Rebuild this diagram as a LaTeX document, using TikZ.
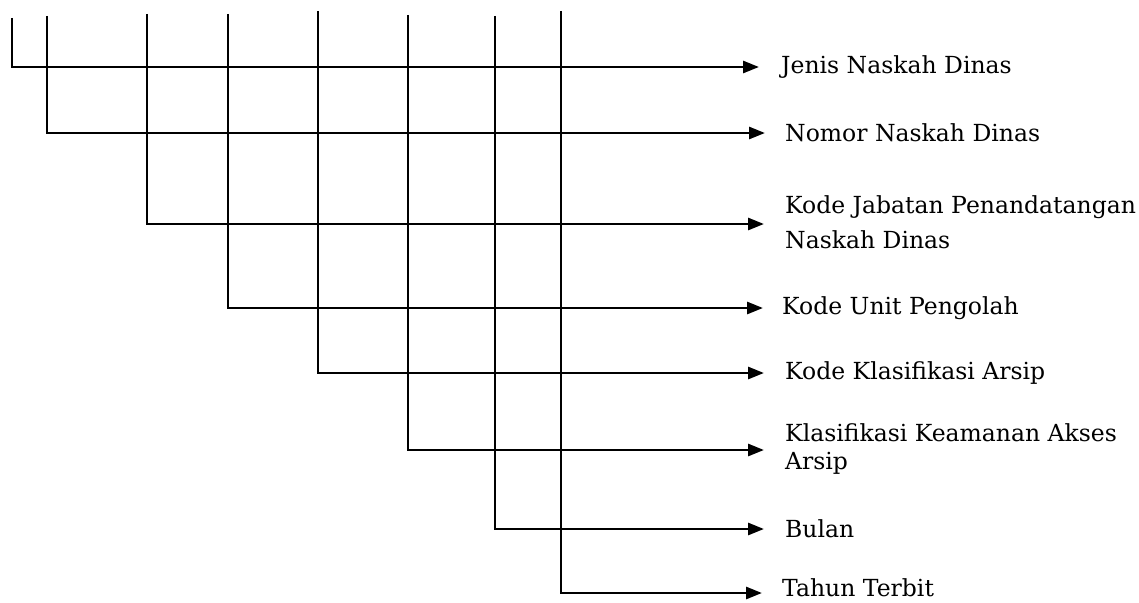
\documentclass[tikz,border=0pt]{standalone}
\usepackage{fontspec}
\setmainfont{DejaVu Serif}
\usetikzlibrary{arrows.meta}
\tikzset{
  conn/.style={line width=2.8pt, draw=black, -{Triangle[length=16pt,width=12pt]}},
  lbl/.style={anchor=west, inner sep=0pt, align=left, font=\fontsize{23.5}{28}\selectfont, text=black},
}
\begin{document}
\begin{tikzpicture}[x=1pt,y=-1pt]
\useasboundingbox (0,0) rectangle (1139,602);
% labels
\node[lbl] (l1) at (781,67) {Jenis Naskah Dinas};
\node[lbl] (l2) at (785,133) {Nomor Naskah Dinas};
\node[lbl] (l3) at (785,222) {Kode Jabatan Penandatangan\\[7pt]Naskah Dinas};
\node[lbl] (l4) at (782,308) {Kode Unit Pengolah};
\node[lbl] (l5) at (785,373) {Kode Klasifikasi Arsip};
\node[lbl] (l6) at (785,449) {Klasifikasi Keamanan Akses\\Arsip};
\node[lbl] (l7) at (785,529) {Bulan};
\node[lbl] (l8) at (782,588) {Tahun Terbit};
% tops
\coordinate (t1) at (12,18);
\coordinate (t2) at (47,16);
\coordinate (t3) at (147,14);
\coordinate (t4) at (228,14);
\coordinate (t5) at (318,11);
\coordinate (t6) at (408,15);
\coordinate (t7) at (495,16);
\coordinate (t8) at (561,11);
% connectors
\draw[conn] (t1) |- ([xshift=-22pt]l1.west);
\draw[conn] (t2) |- ([xshift=-20pt]l2.west);
\draw[conn] (t3) |- ([xshift=-21pt,yshift=-2pt]l3.west);
\draw[conn] (t4) |- ([xshift=-19pt]l4.west);
\draw[conn] (t5) |- ([xshift=-21pt]l5.west);
\draw[conn] (t6) |- ([xshift=-21pt,yshift=-1pt]l6.west);
\draw[conn] (t7) |- ([xshift=-21pt]l7.west);
\draw[conn] (t8) |- ([xshift=-20pt,yshift=-5pt]l8.west);
\end{tikzpicture}
\end{document}
